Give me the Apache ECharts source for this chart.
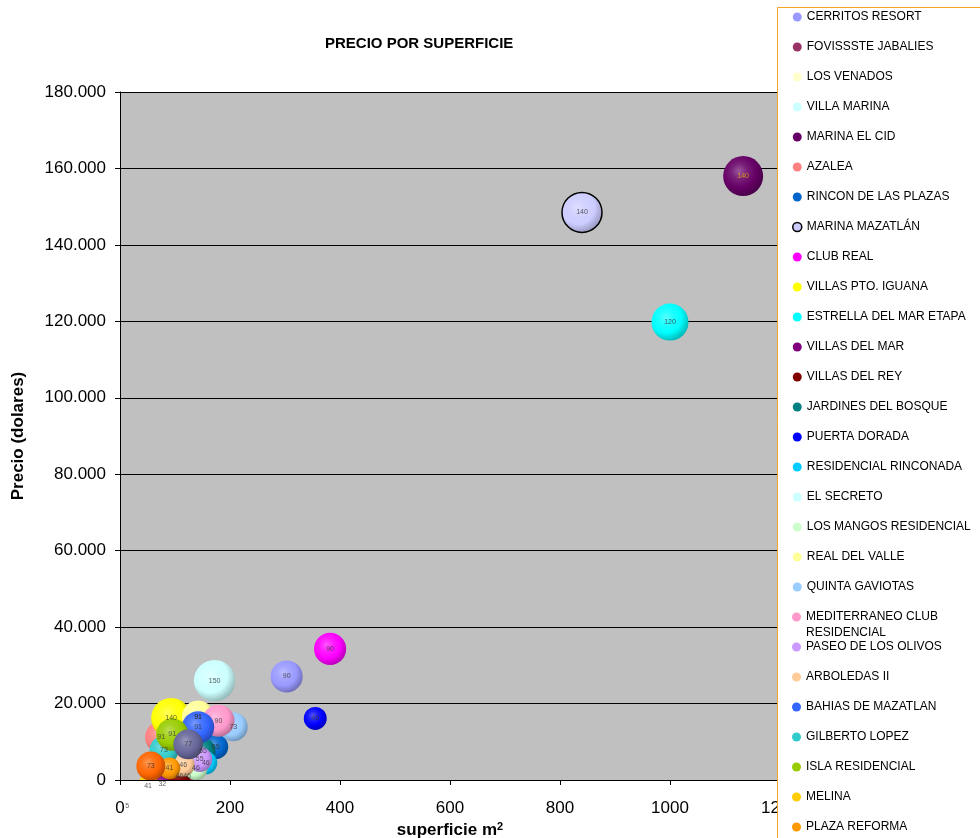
<!DOCTYPE html>
<html>
<head>
<meta charset="utf-8">
<script src="https://cdn.jsdelivr.net/npm/echarts@6.0.0/dist/echarts.min.js"></script>
<style>
  html, body { margin: 0; padding: 0; background: #fff; }
</style>
</head>
<body>
<div id="chart" style="width: 980px; height: 838px"></div>
<script>
// desarrollos (orden de las series); las dos ultimas no aparecen en la leyenda visible
const nombres = [
  'CERRITOS RESORT', 'FOVISSSTE JABALIES', 'LOS VENADOS', 'VILLA MARINA', 'MARINA EL CID',
  'AZALEA', 'RINCON DE LAS PLAZAS', 'MARINA MAZATLÁN', 'CLUB REAL', 'VILLAS PTO. IGUANA',
  'ESTRELLA DEL MAR ETAPA', 'VILLAS DEL MAR', 'VILLAS DEL REY', 'JARDINES DEL BOSQUE', 'PUERTA DORADA',
  'RESIDENCIAL RINCONADA', 'EL SECRETO', 'LOS MANGOS RESIDENCIAL', 'REAL DEL VALLE', 'QUINTA GAVIOTAS',
  'MEDITERRANEO CLUB RESIDENCIAL', 'PASEO DE LOS OLIVOS', 'ARBOLEDAS II', 'BAHIAS DE MAZATLAN', 'GILBERTO LOPEZ',
  'ISLA RESIDENCIAL', 'MELINA', 'PLAZA REFORMA', '', '',
]
// superficie m2
const superficie = [
  303, 122, 142, 13, 1133,
  75, 174, 840, 382, 93,
  1000, 77, 108, 151, 355,
  156, 172, 138, 142, 206,
  179, 145, 115, 142, 80,
  95, 51, 90, 56, 124,
]
// precio (dolares)
const precio = [
  27100, 1050, 16500, -6800, 158000,
  11200, 8700, 148500, 34300, 16200,
  119800, -1050, 1050, 7600, 16100,
  4500, 26000, 3000, 16500, 13900,
  15500, 5400, 3900, 13800, 7800,
  11900, -1500, 3050, 3650, 9300,
]
// tamaño de burbuja (etiqueta)
const tamano = [
  90, 46, 91, 5, 140,
  91, 55, 140, 90, 140,
  120, 32, 46, 55, 46,
  46, 150, 46, 91, 73,
  90, 55, 46, 91, 73,
  91, 41, 41, 73, 77,
]
const colores = [
  '#9999FF', '#993366', '#FFFFCC', '#CCFFFF', '#660066',
  '#FF8080', '#0066CC', '#CCCCFF', '#FF00FF', '#FFFF00',
  '#00FFFF', '#800080', '#800000', '#008080', '#0000FF',
  '#00CCFF', '#CCFFFF', '#CCFFCC', '#FFFF99', '#99CCFF',
  '#FF99CC', '#CC99FF', '#FFCC99', '#3366FF', '#33CCCC',
  '#99CC00', '#FFCC00', '#FF9900', '#FF6600', '#666699',
]
const yTicks = [0, 20000, 40000, 60000, 80000, 100000, 120000, 140000, 160000, 180000]

const fuente = 'Liberation Sans, Arial, sans-serif'

// aclara (f>0) u oscurece (f<0) un color
const tono = (hex, f) => {
  const n = parseInt(hex.slice(1), 16)
  const mix = (c) => (f >= 0 ? Math.round(c + (255 - c) * f) : Math.round(c * (1 + f)))
  return 'rgb(' + mix(n >> 16) + ',' + mix((n >> 8) & 255) + ',' + mix(n & 255) + ')'
}
// relleno tipo burbuja 3D
const burbuja = (hex) => ({
  type: 'radial',
  x: 0.4,
  y: 0.38,
  r: 0.66,
  colorStops: [
    { offset: 0, color: tono(hex, 0.35) },
    { offset: 0.3, color: tono(hex, 0.12) },
    { offset: 0.62, color: hex },
    { offset: 1, color: tono(hex, -0.3) },
  ],
})

const diametro = (s) => 3.38 * Math.sqrt(s)

const series = nombres.map((nombre, i) => ({
  name: nombre || undefined,
  type: 'scatter',
  z: 2,
  clip: false,
  silent: true,
  symbol: 'circle',
  symbolSize: (d) => diametro(d[2]),
  itemStyle: {
    color: burbuja(colores[i]),
    opacity: 1,
    borderColor: '#000',
    borderWidth: nombre === 'MARINA MAZATLÁN' ? 1.5 : 0,
  },
  data: [[superficie[i], precio[i], tamano[i]]],
}))

// etiquetas encima de todas las burbujas (como en Excel)
series.push({
  type: 'scatter',
  z: 4,
  clip: false,
  silent: true,
  symbolSize: 1,
  itemStyle: { color: 'rgba(0,0,0,0)' },
  label: {
    show: true,
    position: 'inside',
    formatter: (p) => p.value[2],
    fontSize: 7,
    fontFamily: fuente,
    color: '#333',
  },
  data: superficie.map((x, i) => ({
    value: [x, precio[i], tamano[i]],
    label: nombres[i] === 'MARINA EL CID' ? { color: '#E8B000' } : undefined,
  })),
})

const itemLeyenda = (nombre) => {
  const i = nombres.indexOf(nombre)
  return {
    name: nombre,
    itemStyle:
      nombre === 'MARINA MAZATLÁN'
        ? { color: colores[i], borderColor: '#000', borderWidth: 1.5 }
        : { color: colores[i], borderWidth: 0 },
  }
}
const leyendaBase = {
  orient: 'vertical',
  left: 792,
  padding: 0,
  z: 6,
  icon: 'circle',
  itemWidth: 9,
  itemHeight: 14,
  itemGap: 14,
  selectedMode: false,
  textStyle: { fontSize: 12, fontFamily: fuente, color: '#000', lineHeight: 16 },
}
const visibles = nombres.slice(0, 28)

const chart = echarts.init(document.getElementById('chart'))
const option = {
  animation: false,
  backgroundColor: '#fff',
  title: {
    text: 'PRECIO POR SUPERFICIE',
    left: 320,
    top: 31,
    textStyle: { fontSize: 15, fontWeight: 'bold', fontFamily: fuente, color: '#000' },
  },
  legend: [
    { ...leyendaBase, top: 9, data: visibles.slice(0, 20).map(itemLeyenda) },
    {
      ...leyendaBase,
      top: 593,
      data: visibles.slice(20, 21).map(itemLeyenda),
      formatter: () => '\nMEDITERRANEO CLUB\nRESIDENCIAL',
    },
    { ...leyendaBase, top: 639, data: visibles.slice(21).map(itemLeyenda) },
  ],
  grid: {
    left: 120,
    right: 200,
    top: 92,
    bottom: 58,
    show: true,
    backgroundColor: '#C0C0C0',
    borderWidth: 0,
    outerBoundsMode: 'none',
  },
  xAxis: {
    type: 'value',
    min: 0,
    max: 1200,
    interval: 200,
    z: 4,
    name: 'superficie m{s|2}',
    nameLocation: 'middle',
    nameGap: 37,
    nameTextStyle: {
      fontSize: 17,
      fontWeight: 'bold',
      fontFamily: fuente,
      color: '#000',
      rich: { s: { fontSize: 11, fontWeight: 'bold', fontFamily: fuente, color: '#000', verticalAlign: 'top' } },
    },
    axisLine: { show: true, onZero: false, lineStyle: { color: '#000', width: 1 } },
    axisTick: { show: true, inside: false, length: 5, lineStyle: { color: '#000' } },
    axisLabel: { fontSize: 17, fontFamily: fuente, color: '#000', margin: 20, formatter: (v) => String(v) },
    splitLine: { show: false },
  },
  yAxis: {
    type: 'value',
    min: 0,
    max: 180000,
    interval: 20000,
    name: 'Precio (dolares)',
    nameLocation: 'middle',
    nameGap: 93,
    nameTextStyle: { fontSize: 17, fontWeight: 'bold', fontFamily: fuente, color: '#000' },
    axisLine: { show: true, lineStyle: { color: '#000', width: 1 } },
    axisTick: { show: true, inside: false, length: 5, lineStyle: { color: '#000' } },
    axisLabel: {
      fontSize: 17,
      fontFamily: fuente,
      color: '#000',
      margin: 14,
      formatter: (v) => (yTicks.includes(v) && v > 0 ? v / 1000 + '.000' : String(v)),
    },
    splitLine: { show: true, lineStyle: { color: '#000', width: 1 } },
  },
  graphic: [
    // blanco bajo el eje x: las burbujas se recortan en 0
    { type: 'rect', z: 3, silent: true, shape: { x: 121, y: 781, width: 656, height: 57 }, style: { fill: '#fff' } },
    // caja de la leyenda
    {
      type: 'rect',
      z: 5,
      silent: true,
      shape: { x: 777.5, y: 7.5, width: 240, height: 900 },
      style: { fill: '#fff', stroke: '#F5A623', lineWidth: 1 },
    },
  ],
  series: series,
}
chart.setOption(option)
</script>
</body>
</html>
